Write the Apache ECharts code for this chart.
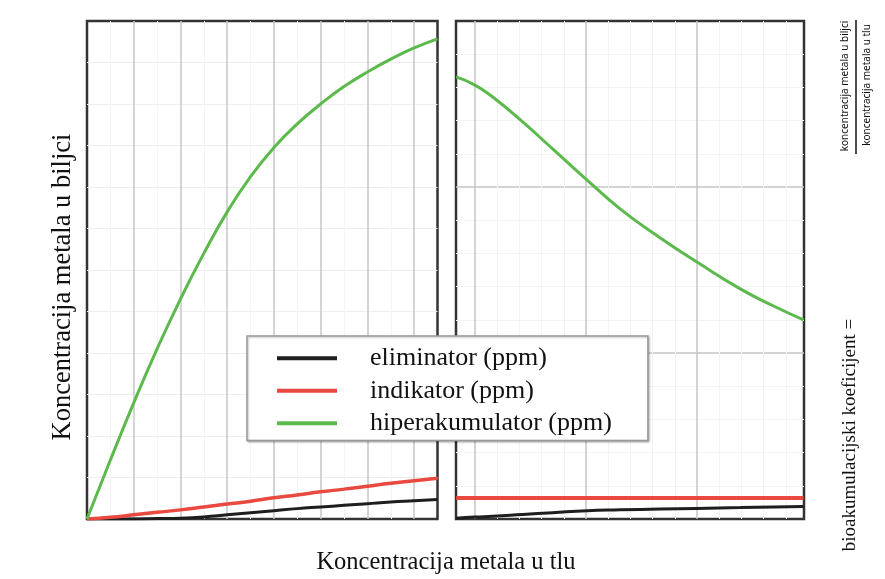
<!DOCTYPE html>
<html><head><meta charset="utf-8">
<script src="https://cdn.jsdelivr.net/npm/echarts@6/dist/echarts.min.js"></script>
<style>html,body{margin:0;padding:0;background:#fff}#c{width:885px;height:579px}</style>
</head><body><div id="c"></div>
<script>
// ---- data ----
const seriesNames = ['eliminator (ppm)', 'indikator (ppm)', 'hiperakumulator (ppm)'];
const seriesColors = ['#1e1e1e', '#e9493f', '#5cba4d'];

// left panel: metal concentration in plant vs. in soil
const leftX = [0, 0.5, 1, 1.5, 2, 2.5, 3, 3.5, 4, 4.5, 5, 5.5, 6, 6.5, 7, 7.5];
const leftEliminator = [0, 0, 0.002, 0.01, 0.02, 0.05, 0.1, 0.15, 0.2, 0.25, 0.29, 0.33, 0.37, 0.41, 0.44, 0.47];
const leftIndikator = [0, 0.04, 0.1, 0.16, 0.22, 0.29, 0.36, 0.43, 0.51, 0.58, 0.655, 0.72, 0.79, 0.86, 0.92, 0.98];
const leftHiper = [0, 1.42, 2.8, 4.1, 5.3, 6.4, 7.4, 8.25, 8.95, 9.52, 10.0, 10.42, 10.77, 11.08, 11.35, 11.57];

// right panel: bioaccumulation coefficient
const rightX = [-0.17, 0, 0.16, 0.43, 0.7, 1.01, 1.31, 1.67, 2.0, 2.39, 2.69, 2.96];
const rightEliminator = [0.004, 0.012, 0.016, 0.027, 0.038, 0.05, 0.055, 0.06, 0.064, 0.069, 0.073, 0.076];
const rightIndikator = [0.126, 0.126, 0.126, 0.126, 0.126, 0.126, 0.126, 0.126, 0.126, 0.126, 0.126, 0.126];
const rightHiper = [2.663, 2.614, 2.542, 2.392, 2.229, 2.042, 1.867, 1.693, 1.548, 1.386, 1.283, 1.199];

// texts
const xTitle = 'Koncentracija metala u tlu';
const yTitleLeft = 'Koncentracija metala u biljci';
const yTitleRight = 'bioakumulacijski koeficijent =';
const fracTop = 'koncentracija metala u biljci';
const fracBottom = 'koncentracija metala u tlu';

// ---- chart ----
const chart = echarts.init(document.getElementById('c'), null, {renderer: 'canvas'});
const pair = (xs, ys) => xs.map((x, i) => [x, ys[i]]);
const serif = 'Liberation Serif, Times New Roman, serif';

function axis(gridIndex, min, max, extra, majorColor, minorSplit, minorColor, majorWidth) {
  return Object.assign({
    type: 'value', gridIndex, min, max,
    axisLine: {show: false}, axisTick: {show: false}, axisLabel: {show: false},
    splitLine: {show: true, showMinLine: false, showMaxLine: false,
      lineStyle: {color: majorColor, width: majorWidth}},
    minorTick: {show: false, splitNumber: minorSplit || 5},
    minorSplitLine: {show: !!minorSplit, lineStyle: {color: minorColor, width: 1}}
  }, extra);
}

function line(name, idx, data, color, width) {
  return {
    name, type: 'line', xAxisIndex: idx, yAxisIndex: idx, data,
    smooth: 0.5, showSymbol: false, symbol: 'none',
    itemStyle: {color}, lineStyle: {color, width}, z: 3
  };
}

chart.setOption({
  animation: false,
  backgroundColor: '#fff',
  grid: [
    {left: 87, right: 447.5, top: 21, bottom: 60, show: true, borderColor: '#333', borderWidth: 2.5, backgroundColor: 'transparent'},
    {left: 456, right: 81, top: 21, bottom: 60, show: true, borderColor: '#333', borderWidth: 2.5, backgroundColor: 'transparent'}
  ],
  xAxis: [
    axis(0, 0, 7.5, {interval: 1}, '#c6c6c6', 2, '#f4f4f4', 1.5),
    axis(1, -0.171, 2.964, {splitNumber: 3}, '#c4c4c4', 5, '#f3f3f3', 1.5)
  ],
  yAxis: [
    axis(0, 0, 12, {interval: 1}, '#eeeeee', 0, '#f7f7f7', 1),
    axis(1, 0, 3, {interval: 1}, '#c4c4c4', 5, '#f3f3f3', 1.5)
  ],
  legend: {
    data: seriesNames,
    orient: 'vertical',
    left: 247, top: 336,
    icon: 'rect', itemWidth: 60, itemHeight: 4, itemGap: 0,
    padding: [6, 36, 1, 30],
    backgroundColor: '#fff', borderColor: '#999', borderWidth: 1.5,
    shadowColor: 'rgba(0,0,0,0.25)', shadowBlur: 2, shadowOffsetX: 1, shadowOffsetY: 1,
    textStyle: {fontFamily: serif, fontSize: 26, lineHeight: 32.5, color: '#111', padding: [0, 0, 0, 28]},
    selectedMode: false
  },
  graphic: [
    {type: 'text', x: 446, y: 563, silent: true,
     style: {text: xTitle, font: '24.5px ' + serif, fill: '#111', align: 'center', verticalAlign: 'middle'}},
    {type: 'text', x: 63, y: 287, rotation: Math.PI / 2, silent: true,
     style: {text: yTitleLeft, font: '26.5px ' + serif, fill: '#111', align: 'center', verticalAlign: 'middle'}},
    {type: 'text', x: 850, y: 435, rotation: Math.PI / 2, silent: true,
     style: {text: yTitleRight, font: '19px ' + serif, fill: '#111', align: 'center', verticalAlign: 'middle'}},
    {type: 'text', x: 845, y: 86, rotation: Math.PI / 2, silent: true,
     style: {text: fracTop, font: '10px Noto Sans, sans-serif', fill: '#111', align: 'center', verticalAlign: 'middle'}},
    {type: 'line', silent: true, shape: {x1: 856, y1: 20, x2: 856, y2: 154},
     style: {stroke: '#111', lineWidth: 1.5}},
    {type: 'text', x: 867, y: 85, rotation: Math.PI / 2, silent: true,
     style: {text: fracBottom, font: '10px Noto Sans, sans-serif', fill: '#111', align: 'center', verticalAlign: 'middle'}}
  ],
  series: [
    line(seriesNames[0], 0, pair(leftX, leftEliminator), seriesColors[0], 3),
    line(seriesNames[1], 0, pair(leftX, leftIndikator), seriesColors[1], 3.5),
    line(seriesNames[2], 0, pair(leftX, leftHiper), seriesColors[2], 3),
    line(seriesNames[0], 1, pair(rightX, rightEliminator), seriesColors[0], 3),
    line(seriesNames[1], 1, pair(rightX, rightIndikator), seriesColors[1], 4),
    line(seriesNames[2], 1, pair(rightX, rightHiper), seriesColors[2], 3)
  ]
});
</script>
</body></html>
